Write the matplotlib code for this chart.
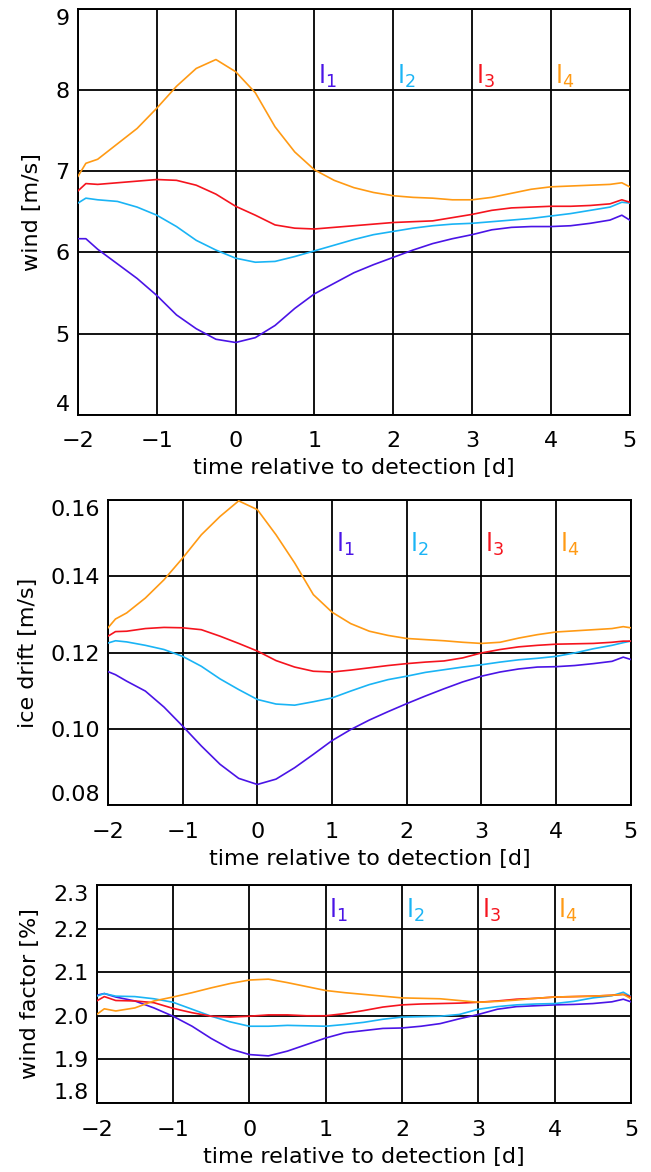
import matplotlib
matplotlib.use("Agg")
import matplotlib.pyplot as plt

plt.rcParams['font.family'] = ['DejaVu Sans']
plt.rcParams['mathtext.fontset'] = 'dejavusans'

# time relative to detection [d]
time = [-2, -1.9, -1.75, -1.5, -1.25, -1, -0.75, -0.5, -0.25, 0, 0.25, 0.5, 0.75,
        1, 1.25, 1.5, 1.75, 2, 2.25, 2.5, 2.75, 3, 3.25, 3.5, 3.75, 4, 4.25, 4.5,
        4.75, 4.9, 5]

series_names = ["$\\mathrm{l}_1$", "$\\mathrm{l}_2$", "$\\mathrm{l}_3$", "$\\mathrm{l}_4$"]
series_colors = ["#4a14e6", "#1ab4f5", "#f5141e", "#ff9a14"]

# wind [m/s]
wind_l1 = [6.17, 6.17, 6.04, 5.86, 5.68, 5.47, 5.23, 5.06, 4.93, 4.89, 4.95, 5.10, 5.31,
           5.49, 5.62, 5.75, 5.85, 5.94, 6.03, 6.11, 6.17, 6.22, 6.28, 6.31, 6.32, 6.32,
           6.33, 6.36, 6.40, 6.46, 6.40]
wind_l2 = [6.61, 6.67, 6.65, 6.63, 6.56, 6.46, 6.32, 6.15, 6.03, 5.93, 5.88, 5.89, 5.95,
           6.02, 6.09, 6.16, 6.22, 6.26, 6.30, 6.33, 6.35, 6.36, 6.38, 6.40, 6.42, 6.45,
           6.48, 6.52, 6.56, 6.62, 6.61]
wind_l3 = [6.76, 6.85, 6.84, 6.86, 6.88, 6.90, 6.89, 6.83, 6.72, 6.57, 6.46, 6.34, 6.30,
           6.29, 6.31, 6.33, 6.35, 6.37, 6.38, 6.39, 6.43, 6.47, 6.52, 6.55, 6.56, 6.57,
           6.57, 6.58, 6.60, 6.65, 6.62]
wind_l4 = [6.94, 7.10, 7.15, 7.34, 7.53, 7.78, 8.05, 8.27, 8.38, 8.23, 7.97, 7.55, 7.24,
           7.02, 6.89, 6.80, 6.74, 6.70, 6.68, 6.67, 6.65, 6.65, 6.68, 6.73, 6.78, 6.81,
           6.82, 6.83, 6.84, 6.86, 6.81]

# ice drift [m/s]
drift_l1 = [0.1150, 0.1142, 0.1125, 0.1099, 0.1057, 0.1007, 0.0955, 0.0907, 0.0870, 0.0854,
            0.0868, 0.0898, 0.0933, 0.0969, 0.0998, 0.1023, 0.1045, 0.1066, 0.1086, 0.1105,
            0.1123, 0.1138, 0.1149, 0.1157, 0.1162, 0.1163, 0.1166, 0.1171, 0.1177, 0.1188,
            0.1182]
drift_l2 = [0.1225, 0.1231, 0.1228, 0.1219, 0.1208, 0.1190, 0.1164, 0.1131, 0.1103, 0.1077,
            0.1065, 0.1062, 0.1071, 0.1081, 0.1099, 0.1116, 0.1129, 0.1138, 0.1148, 0.1155,
            0.1162, 0.1168, 0.1175, 0.1181, 0.1185, 0.1190, 0.1199, 0.1210, 0.1219, 0.1226,
            0.1230]
drift_l3 = [0.1243, 0.1255, 0.1256, 0.1263, 0.1266, 0.1265, 0.1260, 0.1243, 0.1224, 0.1204,
            0.1179, 0.1162, 0.1151, 0.1149, 0.1154, 0.1160, 0.1166, 0.1171, 0.1175, 0.1178,
            0.1186, 0.1199, 0.1208, 0.1215, 0.1219, 0.1222, 0.1223, 0.1224, 0.1227, 0.1230,
            0.1230]
drift_l4 = [0.1265, 0.1288, 0.1304, 0.1343, 0.1391, 0.1448, 0.1509, 0.1557, 0.1598, 0.1575,
            0.1509, 0.1435, 0.1352, 0.1306, 0.1276, 0.1256, 0.1245, 0.1237, 0.1234, 0.1231,
            0.1227, 0.1224, 0.1227, 0.1238, 0.1247, 0.1254, 0.1257, 0.1260, 0.1263, 0.1268,
            0.1265]

# wind factor [%]
factor_l1 = [2.047, 2.051, 2.043, 2.034, 2.018, 1.999, 1.976, 1.948, 1.924, 1.911, 1.908,
             1.919, 1.934, 1.949, 1.961, 1.966, 1.971, 1.972, 1.976, 1.982, 1.993, 2.003,
             2.015, 2.021, 2.023, 2.025, 2.026, 2.028, 2.032, 2.038, 2.032]
factor_l2 = [2.045, 2.051, 2.045, 2.044, 2.039, 2.031, 2.015, 1.999, 1.986, 1.976, 1.976,
             1.978, 1.977, 1.976, 1.980, 1.985, 1.992, 1.997, 1.998, 1.999, 2.003, 2.015,
             2.021, 2.025, 2.027, 2.028, 2.033, 2.041, 2.046, 2.054, 2.044]
factor_l3 = [2.034, 2.044, 2.035, 2.034, 2.030, 2.017, 2.007, 1.999, 1.997, 1.999, 2.002,
             2.002, 2.000, 2.000, 2.005, 2.012, 2.020, 2.025, 2.027, 2.028, 2.029, 2.031,
             2.034, 2.038, 2.040, 2.043, 2.044, 2.045, 2.047, 2.049, 2.043]
factor_l4 = [2.003, 2.016, 2.011, 2.018, 2.034, 2.043, 2.053, 2.064, 2.074, 2.082, 2.084,
             2.076, 2.067, 2.058, 2.053, 2.049, 2.045, 2.041, 2.040, 2.039, 2.035, 2.031,
             2.033, 2.036, 2.040, 2.043, 2.044, 2.045, 2.047, 2.049, 2.039]

x_ticks = [-2, -1, 0, 1, 2, 3, 4, 5]
label_x = [1.05, 2.05, 3.05, 4.05]

panels = [
    {"rect": [0.1198, 0.6462, 0.8475, 0.3459],
     "data": [wind_l1, wind_l2, wind_l3, wind_l4],
     "yticks": [4, 5, 6, 7, 8, 9], "fmt": "{:.0f}",
     "ylabel": "wind [m/s]", "label_y": 8.01, "ylab_x": -0.065},
    {"rect": [0.1659, 0.3131, 0.8029, 0.2602],
     "data": [drift_l1, drift_l2, drift_l3, drift_l4],
     "yticks": [0.08, 0.10, 0.12, 0.14, 0.16], "fmt": "{:.2f}",
     "ylabel": "ice drift [m/s]", "label_y": 0.1447, "ylab_x": -0.134},
    {"rect": [0.1485, 0.0589, 0.8207, 0.1860],
     "data": [factor_l1, factor_l2, factor_l3, factor_l4],
     "yticks": [1.8, 1.9, 2.0, 2.1, 2.2, 2.3], "fmt": "{:.1f}",
     "ylabel": "wind factor [%]", "label_y": 2.21, "ylab_x": -0.106},
]

fig = plt.figure(figsize=(6.51, 11.72), dpi=100)

for p in panels:
    ax = fig.add_axes(p["rect"])
    yt = p["yticks"]

    for ys, col in zip(p["data"], series_colors):
        ax.plot(time, ys, color=col, linewidth=1.2, zorder=3)

    ax.set_xlim(-2, 5)
    ax.set_ylim(yt[0], yt[-1])
    ax.set_xticks(x_ticks)
    ax.set_yticks(yt)
    ax.set_yticklabels([p["fmt"].format(v) for v in yt])
    ax.grid(True, color="black", linewidth=1.3)
    ax.set_axisbelow(True)
    for s in ax.spines.values():
        s.set_linewidth(1.4)
    ax.tick_params(length=0, labelsize=16)
    ax.tick_params(axis="x", pad=12)
    ax.tick_params(axis="y", pad=6)

    # end labels sit inside the frame
    labels = ax.get_yticklabels()
    labels[0].set_va("bottom")
    labels[-1].set_va("top")

    for name, lx, col in zip(series_names, label_x, series_colors):
        ax.text(lx, p["label_y"], name, color=col, fontsize=18, va="bottom", ha="left")

    ax.set_xlabel("time relative to detection [d]", fontsize=16, labelpad=5)
    ax.set_ylabel(p["ylabel"], fontsize=16)
    ax.yaxis.set_label_coords(p["ylab_x"], 0.5)

fig.savefig("out.png", dpi=100)
